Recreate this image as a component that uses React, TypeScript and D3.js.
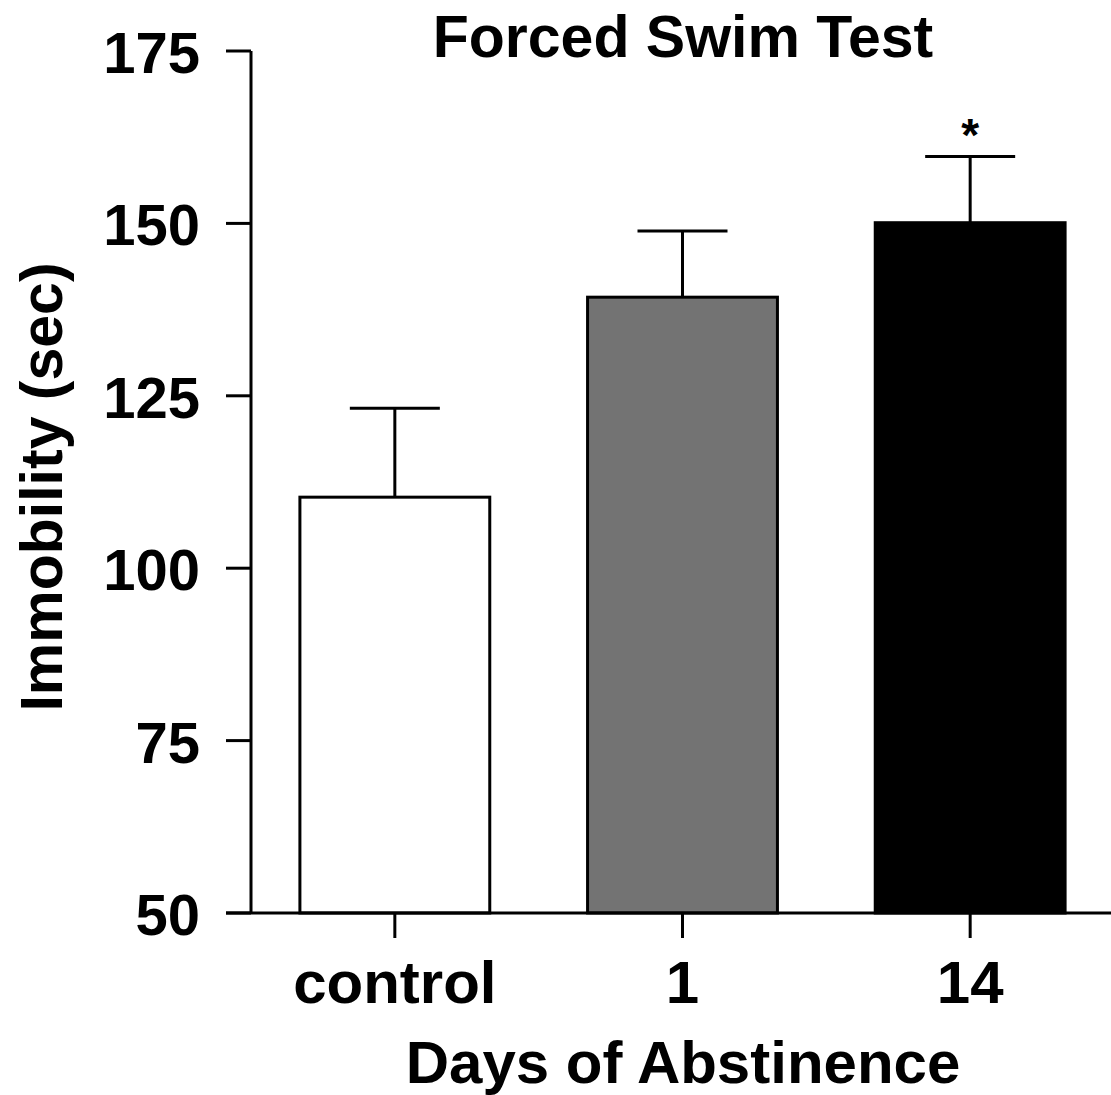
import React from 'react';
import * as d3 from 'd3';

const groups = ['control', '1', '14'];
const means = [110.3, 139.3, 150.1];
const errors = [12.9, 9.6, 9.6];
const fills = ['#ffffff', '#737373', '#000000'];
const stars = ['', '', '*'];
const yTicks = [50, 75, 100, 125, 150, 175];

const W = 1111, H = 1095;
const m = { left: 251, right: 1111, top: 51, bottom: 913 };
const font = 'Liberation Sans, Arial, Helvetica, sans-serif';

export default function App() {
  const y = d3.scaleLinear().domain([50, 175]).range([m.bottom, m.top]);
  const x = d3.scaleBand().domain(groups).range([m.left, 1111 + 3]).paddingInner(0.34).paddingOuter(0.17);
  const bw = x.bandwidth();
  const capW = 90;

  return (
    <svg width={W} height={H} xmlns="http://www.w3.org/2000/svg" style={{ position: 'absolute', left: 0, top: 0 }}>
      <rect width={W} height={H} fill="#fff" />
      <text x={683} y={57} textAnchor="middle" fontFamily={font} fontWeight="bold" fontSize={59}>Forced Swim Test</text>
      {groups.map((g, i) => {
        const cx = x(g)! + bw / 2;
        return (
          <g key={g}>
            <line x1={cx} x2={cx} y1={y(means[i])} y2={y(means[i] + errors[i])} stroke="#000" strokeWidth={3} />
            <line x1={cx - capW / 2} x2={cx + capW / 2} y1={y(means[i] + errors[i])} y2={y(means[i] + errors[i])} stroke="#000" strokeWidth={3} />
            <rect x={x(g)} y={y(means[i])} width={bw} height={y(50) - y(means[i])} fill={fills[i]} stroke="#000" strokeWidth={3} />
            {stars[i] && (
              <text x={cx} y={y(means[i] + errors[i]) - 6} textAnchor="middle" fontFamily={font} fontWeight="bold" fontSize={46}>{stars[i]}</text>
            )}
            <line x1={cx} x2={cx} y1={m.bottom} y2={m.bottom + 25} stroke="#000" strokeWidth={3} />
            <text x={cx} y={1003} textAnchor="middle" fontFamily={font} fontWeight="bold" fontSize={60}>{g}</text>
          </g>
        );
      })}
      <line x1={m.left} x2={m.left} y1={m.top} y2={m.bottom} stroke="#000" strokeWidth={3} />
      <line x1={m.left - 25} x2={W} y1={m.bottom} y2={m.bottom} stroke="#000" strokeWidth={3} />
      {yTicks.map((t) => (
        <g key={t}>
          <line x1={m.left - 25} x2={m.left} y1={y(t)} y2={y(t)} stroke="#000" strokeWidth={3} />
          <text x={200} y={y(t) + 22} textAnchor="end" fontFamily={font} fontWeight="bold" fontSize={58}>{t}</text>
        </g>
      ))}
      <text transform={`translate(62, 487) rotate(-90)`} textAnchor="middle" fontFamily={font} fontWeight="bold" fontSize={59}>Immobility (sec)</text>
      <text x={683} y={1083} textAnchor="middle" fontFamily={font} fontWeight="bold" fontSize={60}>Days of Abstinence</text>
    </svg>
  );
}
